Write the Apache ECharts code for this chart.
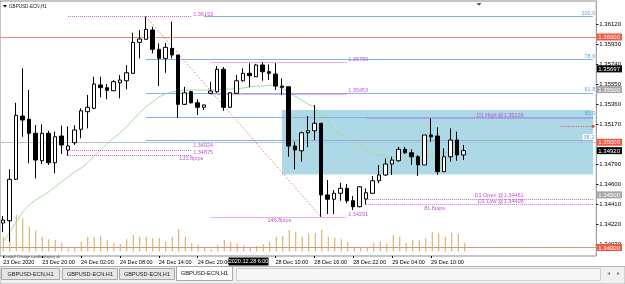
<!DOCTYPE html>
<html><head><meta charset="utf-8">
<script src="https://cdn.jsdelivr.net/npm/echarts@6/dist/echarts.min.js"></script>
<style>html,body{margin:0;padding:0;background:#fff;overflow:hidden}#c{width:625px;height:284px}</style>
</head><body><div id="c"></div>
<script>
// ---------- DATA ----------
const sessions = [['23 Dec',14,23],['24 Dec',0,21],['28 Dec',0,23],['29 Dec',0,23],['30 Dec',0,11]];
const opens  = [1.34232,1.34254,1.34648,1.35249,1.35218,1.35085,1.34824,1.35085,1.34805,1.35059,
                1.34926,1.34995,1.35123,1.35290,1.35322,1.35544,1.35518,1.35489,1.35565,1.35584,
                1.35655,1.35949,1.35978,1.36066,1.35883,1.35797,1.35892,1.35829,1.35360,1.35480,
                1.35375,1.35332,1.35465,1.35480,1.35693,1.35332,1.35465,1.35584,1.35655,1.35622,
                1.35734,1.35670,1.35648,1.35534,1.35527,1.34964,1.34919,1.35090,1.35109,1.35180,
                1.34499,1.34458,1.34515,1.34562,1.34444,1.34387,1.34461,1.34515,1.34634,1.34689,
                1.34793,1.34824,1.34933,1.34900,1.34862,1.34784,1.35069,1.35059,1.34720,1.34862,
                1.35021,1.34879];
const closes = [1.34261,1.34648,1.35256,1.35211,1.35085,1.34831,1.35085,1.34805,1.35052,1.34974,
                1.34964,1.35116,1.35299,1.35332,1.35553,1.35518,1.35493,1.35575,1.35591,1.35660,
                1.35949,1.35981,1.36073,1.35883,1.35797,1.35902,1.35829,1.35360,1.35470,1.35375,
                1.35332,1.35354,1.35487,1.35693,1.35332,1.35470,1.35584,1.35655,1.35632,1.35734,
                1.35670,1.35655,1.35534,1.35522,1.34964,1.34926,1.35090,1.35109,1.35180,1.34499,
                1.34458,1.34515,1.34562,1.34444,1.34387,1.34577,1.34520,1.34634,1.34689,1.34793,
                1.34831,1.34933,1.34900,1.34862,1.34784,1.35069,1.35052,1.34720,1.34862,1.35021,
                1.34879,1.34920];
const lows   = [1.34147,1.34055,1.34641,1.35052,1.34800,1.34657,1.34793,1.34784,1.34705,1.34888,
                1.34872,1.34974,1.35037,1.35132,1.35313,1.35427,1.35408,1.35487,1.35417,1.35503,
                1.35648,1.35797,1.35976,1.35845,1.35534,1.35660,1.35797,1.35233,1.35354,1.35367,
                1.35259,1.35306,1.35458,1.35470,1.35299,1.35325,1.35458,1.35577,1.35522,1.35620,
                1.35584,1.35591,1.35496,1.35449,1.34862,1.34743,1.34815,1.34952,1.35021,1.34291,
                1.34318,1.34318,1.34444,1.34420,1.34356,1.34382,1.34408,1.34513,1.34610,1.34679,
                1.34689,1.34815,1.34888,1.34784,1.34679,1.34784,1.35005,1.34689,1.34717,1.34815,
                1.34824,1.34831];
const highs  = [1.34299,1.34743,1.35375,1.35702,1.35496,1.35164,1.35170,1.35109,1.35100,1.35158,
                1.35150,1.35160,1.35322,1.35449,1.35622,1.35622,1.35553,1.35591,1.35639,1.35734,
                1.36040,1.36066,1.36193,1.36097,1.35940,1.35943,1.36145,1.35829,1.35527,1.35489,
                1.35408,1.35358,1.35575,1.35724,1.35715,1.35477,1.35639,1.35702,1.35750,1.35745,
                1.35759,1.35740,1.35752,1.35607,1.35527,1.35005,1.35100,1.35249,1.35354,1.35180,
                1.34641,1.34546,1.34615,1.34603,1.34489,1.34584,1.34562,1.34679,1.34784,1.34847,
                1.34862,1.34957,1.34957,1.34933,1.34879,1.35069,1.35226,1.35142,1.34942,1.35132,
                1.35100,1.34974];
const volumes = [1480,2150,3650,3320,2480,2080,1480,1220,1150,820,
                 320,480,980,1480,1420,1550,1150,820,750,1220,
                 1650,1480,1480,1320,1380,980,1480,2250,1480,820,
                 650,420,220,650,1150,980,820,600,480,550,
                 720,920,1480,1550,2150,1980,1480,1820,1850,2150,
                 1480,1380,1220,920,480,420,480,820,980,820,
                 1650,1480,820,1150,1150,1320,1980,1820,1480,1880,
                 1750,880];
const maValues = [1.34052,1.34147,1.34242,1.34337,1.34404,1.34451,1.34489,1.34527,1.34575,1.34622,
                  1.34670,1.34717,1.34755,1.34803,1.34869,1.34926,1.34983,1.35040,1.35088,1.35145,
                  1.35211,1.35278,1.35335,1.35382,1.35430,1.35458,1.35477,1.35487,1.35496,1.35496,
                  1.35496,1.35496,1.35496,1.35496,1.35506,1.35506,1.35506,1.35515,1.35525,1.35534,
                  1.35534,1.35544,1.35534,1.35515,1.35477,1.35439,1.35401,1.35363,1.35335,1.35268,
                  1.35202,1.35126,1.35078,1.35040,1.35002,1.34964,1.34926,1.34897,1.34879,1.34860,
                  1.34860,1.34860,1.34860,1.34860,1.34860,1.34869,1.34879,1.34888,1.34897,1.34907,
                  1.34907,1.34917];
const xTickLabels = {'23 Dec 14:00':'23 Dec 2020','23 Dec 20:00':'23 Dec 20:00','24 Dec 02:00':'24 Dec 02:00',
  '24 Dec 08:00':'24 Dec 08:00','24 Dec 14:00':'24 Dec 14:00','24 Dec 20:00':'24 Dec 20:00',
  '28 Dec 10:00':'28 Dec 10:00','28 Dec 16:00':'28 Dec 16:00','28 Dec 22:00':'28 Dec 22:00',
  '29 Dec 04:00':'29 Dec 04:00','29 Dec 10:00':'29 Dec 10:00'};
const priceTicks = [1.36120,1.35930,1.35740,1.35550,1.35360,1.35170,1.34790,1.34600,1.34410,1.34220,1.34030];
const priceTop = 1.36342, priceBottom = 1.33919;
const roundLevels = [1.36000,1.35000,1.34000];
const alertLevels = [1.35500,1.34500];
const bidPrice = 1.34920;
const crosshair = {time:'28 Dec 06:00', price:1.35697, label:'2020.12.28 6:00'};
const fibLevels = [{label:'100.0',price:1.36193,from:'24 Dec 21:00'},{label:'78.6',price:1.35786,from:'24 Dec 12:00'},
                   {label:'61.8',price:1.35466,from:'24 Dec 12:00'},{label:'50.0',price:1.35242,from:'24 Dec 12:00'},
                   {label:'38.2',price:1.35018,from:'24 Dec 12:00'}];
const fibTrend = [['24 Dec 12:00',1.36193],['28 Dec 17:00',1.34291]];
const measureA = {from:'24 Dec 00:00', to:'24 Dec 19:00', levels:[1.36193,1.34924,1.34875], pips:'131.8pips'};
const measureB = {from:'28 Dec 00:00', to:'28 Dec 21:00', levels:[1.35759,1.35453,1.34291], pips:'146.8pips'};
const dailyFrom = '29 Dec 00:00';
const dailyLevels = [{name:'D1 High',price:1.35226},{name:'D1 Open',price:1.34461},{name:'D1 Low',price:1.34408}];
const dailyPips = '81.8pips';
const alertLine = {from:'30 Dec 06:00', price:1.35153};
const zone = {from:'28 Dec 11:00', to:'30 Dec 11:00', top:1.35306, bottom:1.34693};
const symbolName = 'GBPUSD-ECN,H1';
const tabNames = ['GBPUSD-ECN,H1','GBPUSD-ECN,H1','GBPUSD-ECN,H1','GBPUSD-ECN,H1'];

// ---------- BUILD ----------
const categories = [];
sessions.forEach(([d,a,b])=>{for(let h=a;h<=b;h++) categories.push(d+' '+String(h).padStart(2,'0')+':00');});
const lastCat = categories[categories.length-1];
const FONT = 'Liberation Sans, Arial, sans-serif';
const candleData = opens.map((o,i)=>[o,closes[i],lows[i],highs[i]]);
const isTick = (i,v)=> Object.prototype.hasOwnProperty.call(xTickLabels, v);
const flagValues = [...roundLevels, ...alertLevels, bidPrice, crosshair.price];
const flagKind = v => { const s=v.toFixed(5);
  if (roundLevels.some(x=>x.toFixed(5)===s)) return 'r';
  if (alertLevels.some(x=>x.toFixed(5)===s)) return 'g';
  return 'k'; };

const RED='#f08878', FIB='#7fb3ea', PURP='#c46ad8', GRAYDOT='#a8a8a8';
const lines = [];
roundLevels.forEach(p=>lines.push({yAxis:p, lineStyle:{color:RED,width:1,type:'solid'}}));
alertLevels.forEach(p=>lines.push({yAxis:p, lineStyle:{color:GRAYDOT,width:1,type:[1,2]}}));
lines.push({yAxis:bidPrice, lineStyle:{color:'#bcc5cf',width:1,type:'solid'}});
fibLevels.forEach(f=>lines.push([{coord:[f.from,f.price],lineStyle:{color:FIB,width:1,type:'solid'}},{coord:[lastCat,f.price]}]));
[measureA,measureB].forEach(m=>m.levels.forEach(p=>lines.push([{coord:[m.from,p],lineStyle:{color:PURP,width:1,type:[1,1]}},{coord:[m.to,p]}])));
dailyLevels.forEach(d=>lines.push([{coord:[dailyFrom,d.price],lineStyle:{color:PURP,width:1,type:[1,1]}},{coord:[lastCat,d.price]}]));
lines.push([{coord:[alertLine.from,alertLine.price],lineStyle:{color:'#e84040',width:1,type:[1,1.5]}},{coord:[lastCat,alertLine.price],symbol:'circle',symbolSize:3,itemStyle:{color:'#e02020'}}]);

const chart = echarts.init(document.getElementById('c'), null, {renderer:'canvas', width:625, height:284});
chart.setOption({
  animation:false,
  backgroundColor:'#fff',
  grid:[{left:0,right:27,top:1,bottom:28,show:true,borderColor:'#8a8a8a',borderWidth:1,backgroundColor:'transparent'},
        {left:0,right:27,bottom:32.5,height:50}],
  xAxis:[{type:'category',gridIndex:0,data:categories,boundaryGap:true,
          axisLine:{show:false},
          axisTick:{show:true,interval:isTick,alignWithLabel:true,length:2,lineStyle:{color:'#000'}},
          axisLabel:{interval:isTick,formatter:v=>xTickLabels[v]||'',align:'left',margin:3,fontSize:5.5,color:'#000',fontFamily:FONT},
          splitLine:{show:false}},
         {type:'category',gridIndex:1,data:categories,show:false,boundaryGap:true}],
  yAxis:[{type:'value',gridIndex:0,position:'right',min:priceBottom,max:priceTop,splitLine:{show:false},axisLine:{show:false},
          axisTick:{show:true,customValues:priceTicks,length:2,lineStyle:{color:'#000'}},
          axisLabel:{customValues:priceTicks,formatter:v=>v.toFixed(5),fontSize:6,margin:3,color:'#000',fontFamily:FONT}},
         {type:'value',gridIndex:0,position:'right',min:priceBottom,max:priceTop,splitLine:{show:false},axisLine:{show:false},axisTick:{show:false},
          z:20,
          axisLabel:{customValues:flagValues,margin:0.5,fontSize:6,fontFamily:FONT,
            formatter:v=>'{'+flagKind(v)+'|'+v.toFixed(5)+'}',
            rich:{r:{backgroundColor:'#f2573f',color:'#fff',fontSize:6,padding:[1,2,0,1.5],fontFamily:FONT},
                  g:{backgroundColor:'#a6a6a6',color:'#fff',fontSize:6,padding:[1,2,0,1.5],fontFamily:FONT},
                  k:{backgroundColor:'#000',color:'#fff',fontSize:6,padding:[1,2,0,1.5],fontFamily:FONT}}}},
         {type:'value',gridIndex:1,min:0,max:5000,show:false}],
  series:[
    {name:'zone',type:'line',xAxisIndex:0,yAxisIndex:0,data:[],z:1,silent:true,
     markArea:{silent:true,itemStyle:{color:'#add8e6'},data:[[{coord:[zone.from,zone.top]},{coord:[zone.to,zone.bottom]}]]}},
    {name:'Volumes',type:'bar',xAxisIndex:1,yAxisIndex:2,data:volumes,barWidth:1,itemStyle:{color:'#d4a64c'},z:2,silent:true},
    {name:'levels',type:'line',xAxisIndex:0,yAxisIndex:0,data:[],z:3,silent:true,
     markLine:{silent:true,symbol:'none',label:{show:false},animation:false,data:lines}},
    {name:'MA',type:'line',xAxisIndex:0,yAxisIndex:0,data:maValues,showSymbol:false,symbol:'none',
     lineStyle:{color:'#a9d9a2',width:1},z:4,silent:true},
    {name:symbolName,type:'candlestick',xAxisIndex:0,yAxisIndex:0,data:candleData,barWidth:4,z:5,silent:true,
     itemStyle:{color:'#fff',color0:'#000',borderColor:'#000',borderColor0:'#000',borderWidth:1}},
    {name:'trend',type:'line',xAxisIndex:0,yAxisIndex:0,data:[],z:6,silent:true,
     markLine:{silent:true,symbol:'none',label:{show:false},
       data:[[{coord:fibTrend[0],lineStyle:{color:'#e87a7a',width:1,type:[1.5,2]}},{coord:fibTrend[1]}]]}}
  ]
});

// ---------- annotation texts through the chart's own scales ----------
const P = (c,p)=>chart.convertToPixel({xAxisIndex:0,yAxisIndex:0},[c,p]);
const T = (text,x,y,o,z)=>({type:'text',x,y,silent:true,z:(z||50),
  style:Object.assign({text,fill:'#c455cc',fontSize:5.5,fontFamily:FONT,align:'left',verticalAlign:'middle'},o||{})});
const g = [];
// measure tool A
{ const xe=P(measureA.to,0)[0];
  const offs=[-2.5,-5,-3];
  measureA.levels.forEach((p,i)=>g.push(T(p.toFixed(5),xe+2,P(measureA.to,p)[1]+offs[i])));
  g.push(T(measureA.pips,xe+12,P(measureA.to,measureA.levels[2])[1]+3.5,{align:'right'})); }
// measure tool B
{ const xe=P(measureB.to,0)[0];
  const offs=[-3.3,-4.5,-2.5];
  measureB.levels.forEach((p,i)=>g.push(T(p.toFixed(5),xe+1.5,P(measureB.to,p)[1]+offs[i])));
  g.push(T(measureB.pips,P('28 Dec 10:00',0)[0]+4,P(measureB.to,measureB.levels[2])[1]+3.7,{align:'center'})); }
// daily levels
{ const xr=P('30 Dec 00:00',0)[0]+1.75;
  dailyLevels.forEach(d=>g.push(T(d.name+' @'+d.price.toFixed(5),xr,P(dailyFrom,d.price)[1]-3,{align:'right'})));
  g.push(T(dailyPips,P('29 Dec 12:00',0)[0]+1,P(dailyFrom,dailyLevels[2].price)[1]+3.5,{align:'right'})); }
// fib labels
{ const xr=P(lastCat,0)[0]+2.2;
  fibLevels.forEach(f=>g.push(T(f.label,xr,P(lastCat,f.price)[1]-0.3,
     Object.assign({align:'right',verticalAlign:'bottom',fill:'#5f9fe0'}, f.label==='38.2'?{backgroundColor:'#fff',padding:[0,1]}:{})))); }
// crosshair time label on the x axis
{ const cx=P(crosshair.time,0)[0];
  g.push({type:'rect',silent:true,z:60,shape:{x:cx-21,y:257.5,width:40,height:8},style:{fill:'#000'}});
  g.push(T(crosshair.label,cx-1,261.7,{fill:'#fff',align:'center',fontSize:5.5},61)); }
// window chrome
g.push({type:'polygon',silent:true,z:60,shape:{points:[[3,5],[7,5],[5,7.5]]},style:{fill:'#000'}});
g.push(T(symbolName,9,6.3,{fill:'#222',fontSize:4.6},61));
g.push({type:'polygon',silent:true,z:60,shape:{points:[[476.5,3],[481.5,3],[479,5.8]]},style:{fill:'#555'}});
g.push(T('Kundoll Change candle display ok',3,256.8,{fill:'#555',fontSize:3.8},61));
g.push({type:'rect',silent:true,z:40,shape:{x:0,y:266.5,width:625,height:17.5},style:{fill:'#f0f0f0',stroke:'#b4b4b4',lineWidth:1}});
g.push({type:'rect',silent:true,z:41,shape:{x:236.5,y:268.5,width:364,height:12},style:{fill:'#f7f7f7',stroke:'#cfcfcf',lineWidth:1}});
const tabX=[[1.5,58],[62.5,55],[119.5,55]];
tabX.forEach(([x,w],i)=>{
  g.push({type:'rect',silent:true,z:42,shape:{x,y:268.5,width:w,height:11},style:{fill:'#e6e6e6',stroke:'#a8a8a8',lineWidth:1}});
  g.push(T(tabNames[i],x+w/2,274.3,{fill:'#222',align:'center',fontSize:5.6},43));
});
g.push({type:'rect',silent:true,z:44,shape:{x:176.5,y:266.5,width:56,height:14},style:{fill:'#fff',stroke:'#a8a8a8',lineWidth:1}});
g.push(T(tabNames[3],204.5,273.5,{fill:'#111',align:'center',fontSize:5.8},45));
g.push(T('◂',608,273.5,{fill:'#888',align:'center',fontSize:6},45));
g.push(T('▸',618,273.5,{fill:'#888',align:'center',fontSize:6},45));
chart.setOption({graphic:g});
</script>
</body></html>
